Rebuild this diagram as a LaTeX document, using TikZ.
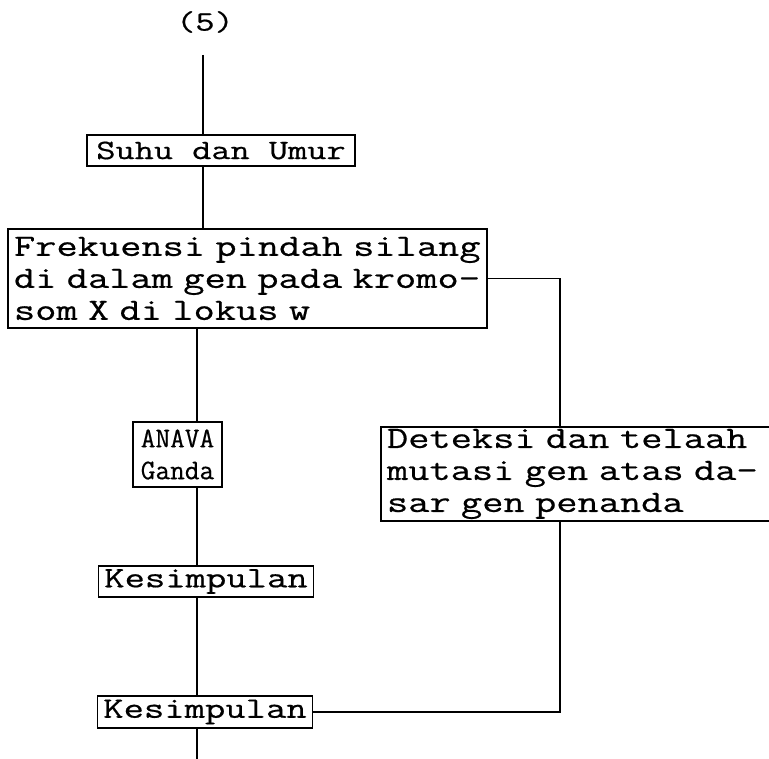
\documentclass[tikz,border=0pt]{standalone}
\usepackage{fontspec}
\newfontfamily\tw[FakeBold=0.6,FakeStretch=1.33]{Latin Modern Mono}
\newfontfamily\twn[FakeBold=0.5]{Latin Modern Mono}
\begin{document}
\begin{tikzpicture}[x=1pt,y=-1pt,
  every node/.style={font=\tw\fontsize{28}{32}\selectfont},
  big/.style={font=\tw\fontsize{31}{32}\selectfont},
  kes/.style={font=\tw\fontsize{29.7}{32}\selectfont},
  narrow/.style={font=\twn\fontsize{28.5}{32}\selectfont},
  box/.style={draw, line width=1.4pt, inner xsep=6pt, inner ysep=0pt},
  conn/.style={line width=1.4pt}]
\useasboundingbox (0,0) rectangle (769,759);
\node (lab) at (205,22) {(5)};
\node[box, minimum width=268pt, minimum height=31pt] (suhu) at (221,150.5) {Suhu dan Umur};
\node[box, big, text width=467pt, minimum height=99pt, align=left] (freq) at (247.5,278.5)
  {Frekuensi pindah silang\\di dalam gen pada kromo-\\som X di lokus w};
\node[box, narrow, text width=77pt, minimum height=65pt, align=center] (anava) at (177.5,454.5)
  {ANAVA\\Ganda};
\node[box, big, text width=382pt, minimum height=94pt, align=left] (det) at (578,474)
  {Deteksi dan telaah\\mutasi gen atas da-\\sar gen penanda};
\node[box, kes, minimum width=212pt, minimum height=31pt] (kes1) at (206,581.5) {Kesimpulan};
\node[box, kes, minimum width=210pt, minimum height=32pt] (kes2) at (205,712) {Kesimpulan};
\coordinate (top) at (203,55);
\coordinate (colA) at (197,0);
\coordinate (colB) at (560,0);
\coordinate (bot) at (197,759);
\draw[conn] (top) -- (top |- suhu.north);
\draw[conn] (top |- suhu.south) -- (top |- freq.north);
\draw[conn] (colA |- freq.south) -- (colA |- anava.north);
\draw[conn] (colA |- anava.south) -- (colA |- kes1.north);
\draw[conn] (colA |- kes1.south) -- (colA |- kes2.north);
\draw[conn] (colA |- kes2.south) -- (bot);
\draw[conn] (freq.east) -| (colB |- det.north);
\draw[conn] (kes2.east) -| (colB |- det.south);
\end{tikzpicture}
\end{document}
